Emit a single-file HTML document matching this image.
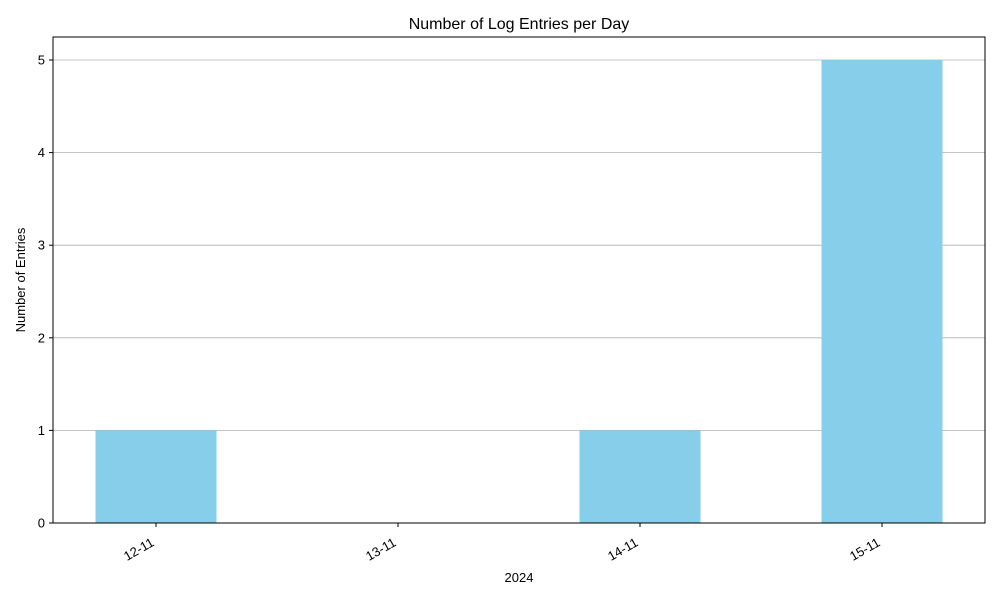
<!DOCTYPE html>
<html><head><meta charset="utf-8"><style>body{margin:0;background:#fff}text{font-family:"Liberation Sans","DejaVu Sans",sans-serif;fill:#000}</style></head>
<body>
<svg id="chart" width="1000" height="600" viewBox="0 0 1000 600">
<rect width="1000" height="600" fill="#fff"/>
<text x="519" y="29" font-size="16" text-anchor="middle">Number of Log Entries per Day</text>
<g id="grid"></g><g id="bars"></g>
<rect x="53" y="37" width="932" height="486" fill="none" stroke="#000" stroke-width="1"/>
<g id="yticks"></g><g id="xticks"></g>
<text x="519" y="582" font-size="13" text-anchor="middle">2024</text>
<text transform="translate(25,280) rotate(-90)" font-size="13" text-anchor="middle">Number of Entries</text>
</svg>
<script>
const categories=["12-11","13-11","14-11","15-11"];
const values=[1,0,1,5];
const yTicks=[0,1,2,3,4,5];
const NS="http://www.w3.org/2000/svg";
const L=53,R=985,T=37,B=523;
const x=i=>156+i*242;
const y=v=>B-v*(B-60)/5;
function mk(tag,attrs,parent){const e=document.createElementNS(NS,tag);for(const k in attrs)e.setAttribute(k,attrs[k]);document.getElementById(parent).appendChild(e);return e;}
yTicks.forEach(t=>{
 const g=mk("line",{x1:L,x2:R,y1:y(t),y2:y(t),stroke:"#b0b0b0","stroke-width":0.8},"grid");
 
 
 mk("line",{x1:L-4,x2:L,y1:y(t),y2:y(t),stroke:"#000"},"yticks");
 const tx=mk("text",{x:L-8,y:y(t)+4.5,"font-size":13,"text-anchor":"end"},"yticks");
 tx.textContent=t;
 
 
});
categories.forEach((c,i)=>{
 const cx=x(i),w=121;
 if(values[i]>0){
  const b=mk("rect",{x:cx-w/2,y:y(values[i]),width:w,height:B-y(values[i]),fill:"#87ceeb"},"bars");
  
  
 }
 mk("line",{x1:cx,x2:cx,y1:B,y2:B+4,stroke:"#000"},"xticks");
 const tx=mk("text",{transform:`translate(${cx-1},${B+22}) rotate(-30)`,"font-size":13,"text-anchor":"end"},"xticks");
 tx.textContent=c;
 
 
});
</script>
</body></html>
